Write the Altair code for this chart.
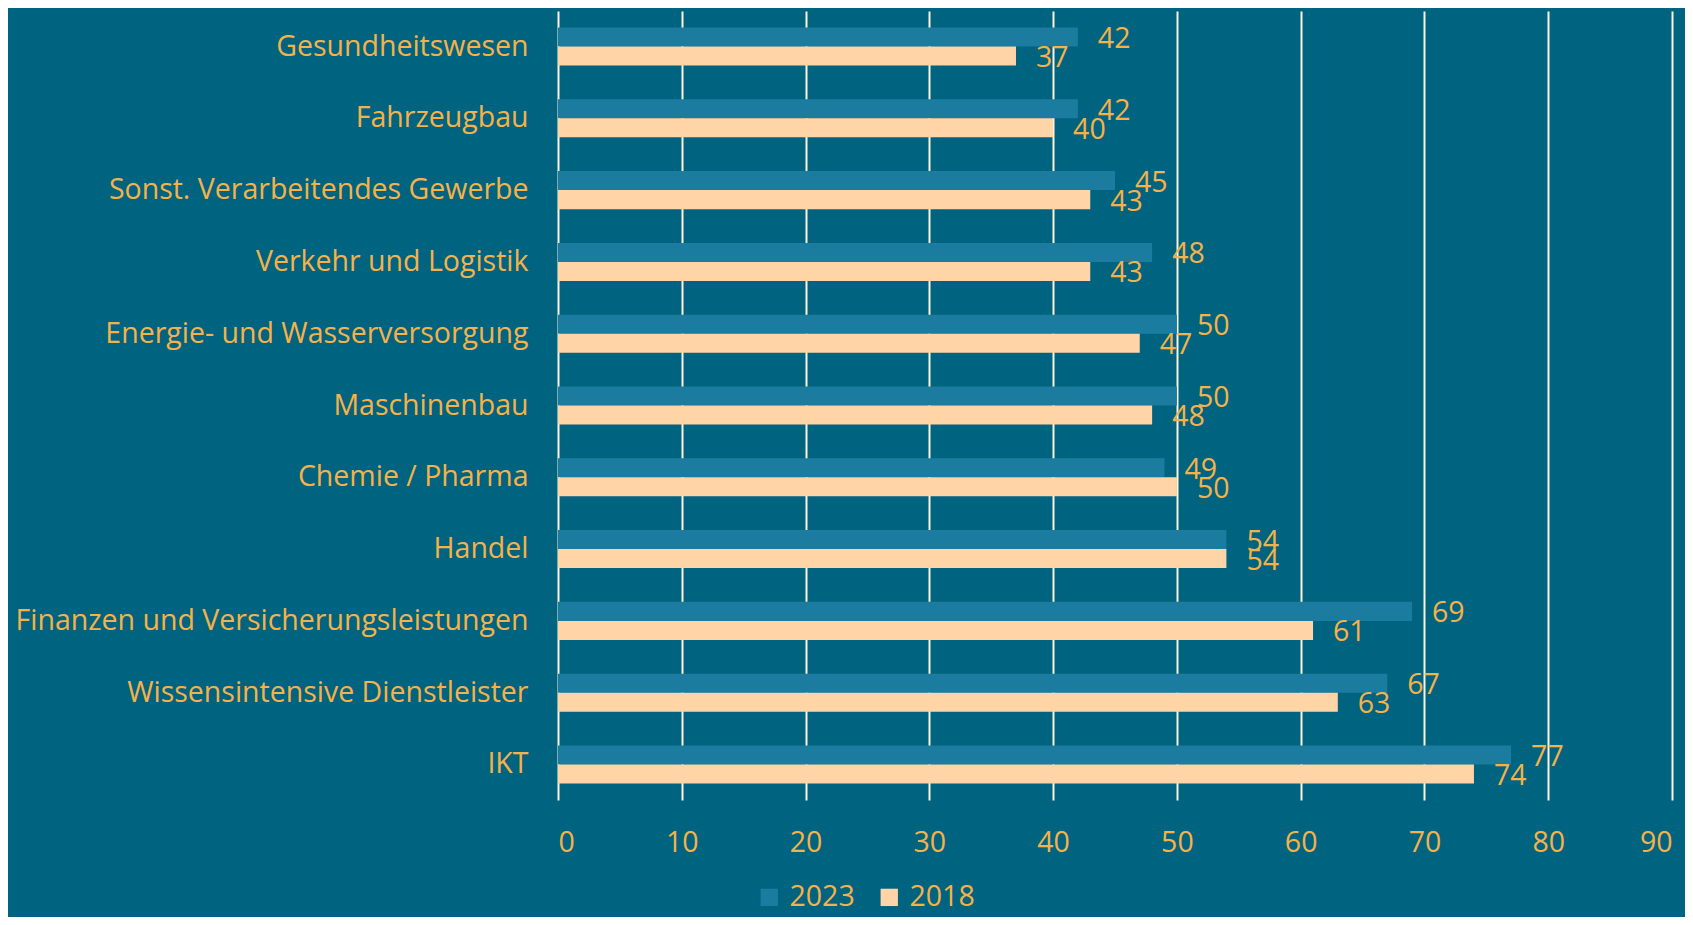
import altair as alt
import pandas as pd

categories = [
    "Gesundheitswesen",
    "Fahrzeugbau",
    "Sonst. Verarbeitendes Gewerbe",
    "Verkehr und Logistik",
    "Energie- und Wasserversorgung",
    "Maschinenbau",
    "Chemie / Pharma",
    "Handel",
    "Finanzen und Versicherungsleistungen",
    "Wissensintensive Dienstleister",
    "IKT",
]
values_2023 = [42, 42, 45, 48, 50, 50, 49, 54, 69, 67, 77]
values_2018 = [37, 40, 43, 43, 47, 48, 50, 54, 61, 63, 74]
years = ["2023", "2018"]
x_ticks = [0, 10, 20, 30, 40, 50, 60, 70, 80, 90]

rows = []
for c, v in zip(categories, values_2023):
    rows.append({"cat": c, "year": "2023", "value": v})
for c, v in zip(categories, values_2018):
    rows.append({"cat": c, "year": "2018", "value": v})
df = pd.DataFrame(rows)

BG = "#00637F"
C23 = "#1B7CA0"
C18 = "#FFD4A6"
TXT = "#F6B24A"
GRID = "#FFF4DE"
FONT = "Open Sans"
FS = 28.5

y_enc = alt.Y(
    "cat:N",
    sort=categories,
    scale=alt.Scale(paddingInner=0.47, paddingOuter=0.23),
    axis=alt.Axis(title=None, labelFontSize=FS, labelColor=TXT, labelFont=FONT,
                  labelPadding=30, domain=False, ticks=False, grid=False, labelLimit=800),
)
yoff = alt.YOffset("year:N", sort=years, scale=alt.Scale(paddingInner=0, paddingOuter=0))
x_enc = alt.X(
    "value:Q",
    scale=alt.Scale(domain=[0, 90], nice=False),
    axis=alt.Axis(values=x_ticks, title=None, grid=True, gridColor=GRID, gridWidth=2,
                  gridOpacity=1, domain=False, ticks=False, labelPadding=28,
                  labelFontSize=FS, labelColor=TXT, labelFont=FONT),
)

bars = alt.Chart(df).mark_bar().encode(
    x=x_enc,
    y=y_enc,
    yOffset=yoff,
    color=alt.Color(
        "year:N",
        sort=years,
        scale=alt.Scale(domain=years, range=[C23, C18]),
        legend=alt.Legend(title=None, orient="none", legendX=197, legendY=872,
                          direction="horizontal", symbolType="square", symbolSize=300,
                          symbolStrokeWidth=0, labelFontSize=FS, labelColor=TXT,
                          labelFont=FONT, columnPadding=20, labelOffset=6),
    ),
)

labels = alt.Chart(df).mark_text(
    align="left", baseline="middle", dx=20, dy=2, fontSize=FS, font=FONT, color=TXT
).encode(
    x="value:Q",
    y=alt.Y("cat:N", sort=categories),
    yOffset=alt.YOffset("year:N", sort=years),
    text="value:Q",
)

chart = (
    alt.layer(bars, labels)
    .properties(
        width=1114,
        height=789,
        background=BG,
        autosize=alt.AutoSizeParams(type="none"),
        padding={"left": 550, "top": 3, "right": 13, "bottom": 117},
    )
    .configure_view(stroke=None)
)

chart.save("out.html", embed_options={"renderer": "svg", "actions": False})
